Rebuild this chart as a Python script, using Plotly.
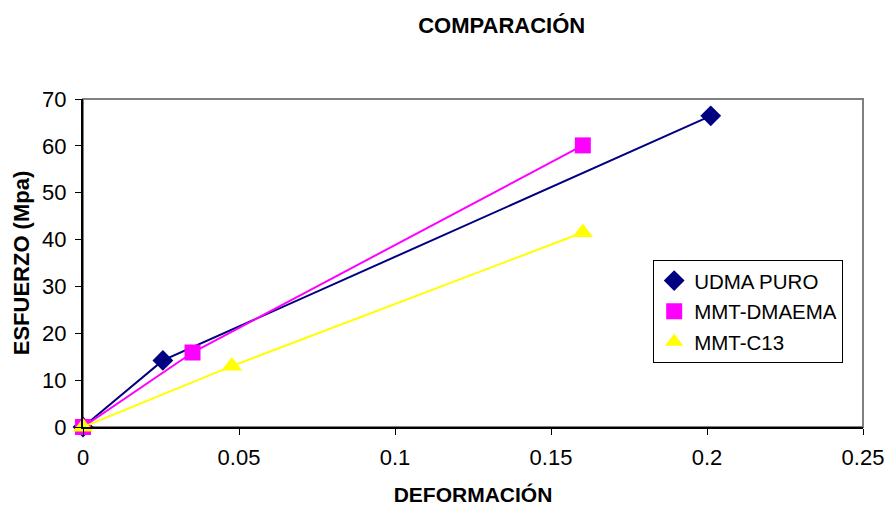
import plotly.graph_objects as go

# Stress-strain comparison data
udma_x = [0.0, 0.0256, 0.2012]
udma_y = [0.0, 14.2, 66.4]

dmaema_x = [0.0, 0.0351, 0.1602]
dmaema_y = [0.0, 15.9, 60.1]

c13_x = [0.0, 0.0477, 0.1602]
c13_y = [0.0, 13.0, 41.5]

series = [
    ("UDMA PURO", udma_x, udma_y, "#000080", "diamond", 16),
    ("MMT-DMAEMA", dmaema_x, dmaema_y, "#FF00FF", "square", 16),
    ("MMT-C13", c13_x, c13_y, "#FFFF00", "triangle-up", 18),
]

x_ticks = [0, 0.05, 0.1, 0.15, 0.2, 0.25]
x_ticklabels = ["0", "0.05", "0.1", "0.15", "0.2", "0.25"]
y_ticks = [0, 10, 20, 30, 40, 50, 60, 70]

FONT = "Liberation Sans, Arial, sans-serif"

fig = go.Figure()

for i, (name, xs, ys, color, symbol, size) in enumerate(series):
    fig.add_trace(go.Scatter(
        x=xs, y=ys, mode="lines+markers", name=name, showlegend=False,
        line=dict(color=color, width=2),
        marker=dict(symbol=symbol, size=size, color=color, line=dict(width=0)),
        cliponaxis=False,
    ))
    # marker-only legend entry
    fig.add_trace(go.Scatter(
        x=[None], y=[None], mode="markers", name=name, legendgroup=f"g{i}",
        marker=dict(symbol=symbol, size=size, color=color, line=dict(width=0)),
    ))

# grey frame around the plotting area
fig.add_shape(type="rect", xref="paper", yref="paper", x0=0, y0=0, x1=1, y1=1,
              line=dict(color="#808080", width=2), layer="below")

fig.update_layout(
    width=888, height=506,
    margin=dict(l=83, r=25, t=99, b=79, autoexpand=False),
    paper_bgcolor="white", plot_bgcolor="white",
    font=dict(family=FONT, size=21, color="black"),
    title=dict(text="<b>COMPARACIÓN</b>", x=0.565, xanchor="center", y=0.95, yanchor="middle",
               font=dict(size=22, family=FONT), automargin=False),
    showlegend=True,
    legend=dict(x=0.731, y=0.51, xanchor="left", yanchor="top",
                bordercolor="black", borderwidth=1, bgcolor="white",
                font=dict(size=20.5, family=FONT), tracegroupgap=1,
                itemwidth=30),
)

fig.update_xaxes(
    range=[0, 0.25], tickvals=x_ticks, ticktext=x_ticklabels, automargin=False,
    showgrid=False, zeroline=False, showline=True, linecolor="black", linewidth=2,
    ticks="outside", ticklen=6, tickcolor="black", tickwidth=1,
    tickfont=dict(size=22, family=FONT), ticklabelstandoff=4,
    title=dict(text="<b>DEFORMACIÓN</b>", font=dict(size=21, family=FONT), standoff=18),
)
fig.update_yaxes(
    range=[0, 70], tickvals=y_ticks, automargin=False,
    showgrid=False, zeroline=False, showline=True, linecolor="black", linewidth=2,
    ticks="outside", ticklen=6, tickcolor="black", tickwidth=1,
    tickfont=dict(size=22, family=FONT), ticklabelstandoff=4,
    title=dict(text="<b>ESFUERZO (Mpa)</b>", font=dict(size=22, family=FONT), standoff=6),
)

fig.write_html("out.html")
